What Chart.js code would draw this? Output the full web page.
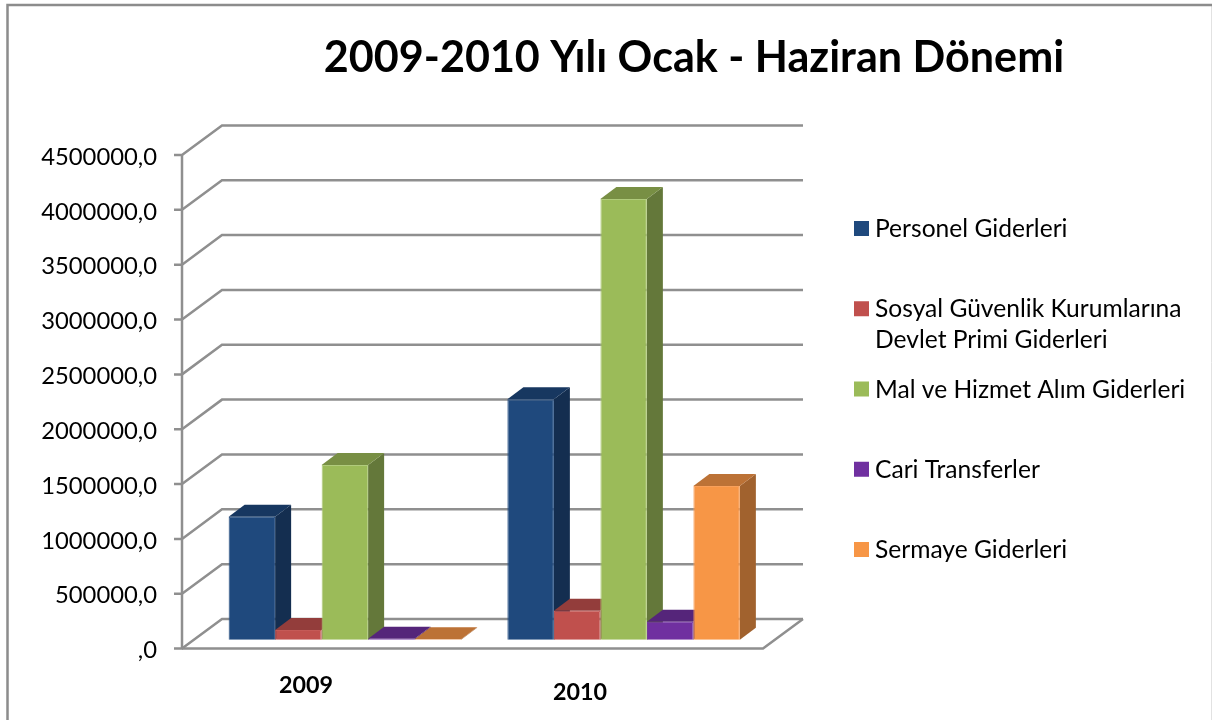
<!DOCTYPE html>
<html>
<head>
<meta charset="utf-8">
<title>2009-2010 Yılı Ocak - Haziran Dönemi</title>
<script src="https://cdn.jsdelivr.net/npm/chart.js@4/dist/chart.umd.min.js"></script>
<style>
  html, body { margin: 0; padding: 0; background: #fff; overflow: hidden; }
  canvas { display: block; }
</style>
</head>
<body>
<canvas id="chart" width="1212" height="720"></canvas>
<script>
const titleText = "2009-2010 Yılı Ocak - Haziran Dönemi";
const years = ["2009", "2010"];
const yTickLabels = [",0", "500000,0", "1000000,0", "1500000,0", "2000000,0", "2500000,0", "3000000,0", "3500000,0", "4000000,0", "4500000,0"];

const personel = [1121000, 2191000];
const sosyal = [88000, 264000];
const malHizmet = [1592000, 4017000];
const cari = [8000, 164000];
const sermaye = [3000, 1401000];

const seriesNames = ["Personel Giderleri", "Sosyal Güvenlik Kurumlarına Devlet Primi Giderleri", "Mal ve Hizmet Alım Giderleri", "Cari Transferler", "Sermaye Giderleri"];
const legendLines = [["Personel Giderleri"], ["Sosyal Güvenlik Kurumlarına", "Devlet Primi Giderleri"], ["Mal ve Hizmet Alım Giderleri"], ["Cari Transferler"], ["Sermaye Giderleri"]];

const frontColors = ["#1F497D", "#C0504D", "#9BBB59", "#7030A0", "#F79646"];
const edgeColors = ["#264F83", "#C55A57", "#B0CB7C", "#7636A5", "#F9A05A"];
const topColors = ["#173760", "#933D3B", "#788F44", "#55257A", "#BC7236"];
const sideColors = ["#142E50", "#7F3432", "#64783A", "#4A2069", "#A1622E"];

const FONT = "Lato, Carlito, sans-serif";
const GRID = "#8F8F8F";

// 3D look: back wall offset of the gridlines, and the bars' own depth
const wallDx = 40, wallDy = -29.6, wallRight = 803;
const barShift = -8.9, depthX = 16, depthY = -12;

function line(ctx, pts, color, width) {
  ctx.beginPath();
  pts.forEach((p, i) => i ? ctx.lineTo(p[0], p[1]) : ctx.moveTo(p[0], p[1]));
  ctx.strokeStyle = color;
  ctx.lineWidth = width;
  ctx.stroke();
}

function poly(ctx, pts, color) {
  ctx.beginPath();
  pts.forEach((p, i) => i ? ctx.lineTo(p[0], p[1]) : ctx.moveTo(p[0], p[1]));
  ctx.closePath();
  ctx.fillStyle = color;
  ctx.fill();
}

const scene3d = {
  id: "scene3d",
  beforeDraw(chart) {
    // tick text sits 2px under its tick in the original
    const y = chart.scales.y;
    if (!y._nudged) {
      const drawLabels = y.drawLabels;
      y.drawLabels = function (area) {
        chart.ctx.save();
        chart.ctx.translate(0, 2);
        drawLabels.call(this, area);
        chart.ctx.restore();
      };
      y._nudged = true;
    }
  },
  beforeDatasetsDraw(chart) {
    const ctx = chart.ctx;
    const y = chart.scales.y;
    const axisX = 182, zero = y.getPixelForValue(0), top = y.getPixelForValue(4500000);
    ctx.save();

    // outer frame
    line(ctx, [[1211.5, 5], [1211.5, 720]], "#E2E2E2", 1);
    line(ctx, [[7.5, 720], [7.5, 5], [1212, 5]], "#8C8C8C", 2.5);

    // walls and gridlines
    y.ticks.forEach(t => {
      const py = y.getPixelForValue(t.value);
      line(ctx, [[174, py], [axisX, py], [axisX + wallDx, py + wallDy], [wallRight, py + wallDy]], GRID, 2.5);
    });
    line(ctx, [[axisX, top], [axisX, zero]], GRID, 2.5);
    line(ctx, [[axisX, zero], [wallRight - wallDx, zero], [wallRight, zero + wallDy]], GRID, 2.5);

    // side and top faces, left to right so each bar sits over its neighbour's side
    years.forEach((_, c) => {
      chart.data.datasets.forEach((ds, i) => {
        const el = chart.getDatasetMeta(i).data[c];
        const l = el.x - el.width / 2, r = el.x + el.width / 2;
        const t = el.y + barShift, b = el.base + barShift;
        poly(ctx, [[r, t], [r + depthX, t + depthY], [r + depthX, b + depthY], [r, b]], sideColors[i]);
        poly(ctx, [[l, t], [r, t], [r + depthX, t + depthY], [l + depthX, t + depthY]], topColors[i]);
      });
    });
    ctx.restore();
  },
  beforeDatasetDraw(chart) {
    chart.ctx.save();
    chart.ctx.translate(0, barShift);
  },
  afterDatasetDraw(chart) {
    chart.ctx.restore();
  },
  afterDraw(chart) {
    const ctx = chart.ctx;
    ctx.save();
    ctx.textBaseline = "alphabetic";
    ctx.fillStyle = "#000";

    ctx.textAlign = "center";
    ctx.font = "bold 43.1px " + FONT;
    ctx.fillText(titleText, 694, 72);

    // year labels are not level in the original
    ctx.font = "bold 23.3px " + FONT;
    ctx.fillText(years[0], 306, 693);
    ctx.fillText(years[1], 580, 700);

    ctx.textAlign = "left";
    ctx.font = "24.6px " + FONT;
    legendLines.forEach((lines, i) => {
      const base = 236 + i * 80.25;
      ctx.fillStyle = frontColors[i];
      ctx.fillRect(854, base - 15, 15, 15);
      ctx.fillStyle = "#000";
      lines.forEach((txt, n) => ctx.fillText(txt, 875, base + 1 + n * 31));
    });
    ctx.restore();
  }
};

new Chart(document.getElementById("chart"), {
  type: "bar",
  data: {
    labels: years,
    datasets: [personel, sosyal, malHizmet, cari, sermaye].map((values, i) => ({
      label: seriesNames[i],
      data: values,
      backgroundColor: frontColors[i],
      borderColor: edgeColors[i],
      borderWidth: 1,
      categoryPercentage: 0.834,
      barPercentage: 1,
      clip: false
    }))
  },
  options: {
    responsive: false,
    animation: false,
    layout: { padding: { left: 0, right: 449, top: 155, bottom: 71.4 } },
    plugins: { legend: { display: false }, title: { display: false }, tooltip: { enabled: false } },
    scales: {
      x: {
        afterFit: scale => { scale.height = 0; },
        grid: { display: false },
        border: { display: false },
        ticks: { display: false }
      },
      y: {
        min: 0,
        max: 4500000,
        afterFit: scale => { scale.width = 205.5; },
        grid: { display: false },
        border: { display: false },
        ticks: {
          stepSize: 500000,
          padding: 40.5,
          color: "#000",
          font: { family: FONT, size: 23.8 },
          callback: (v, i) => yTickLabels[i]
        }
      }
    }
  },
  plugins: [scene3d]
});
</script>
</body>
</html>
